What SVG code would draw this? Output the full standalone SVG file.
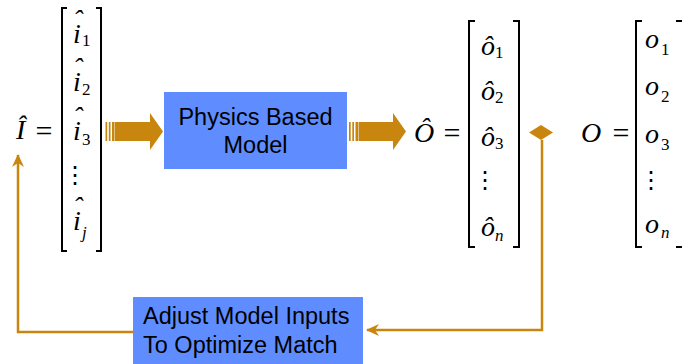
<svg xmlns="http://www.w3.org/2000/svg" width="682" height="364" viewBox="0 0 682 364">
<style>
.m{font-family:"Liberation Serif","Times New Roman",serif;font-style:italic;fill:#000}
.big{font-size:28px}
.it{font-size:28px}
.sub{font-family:"Liberation Serif","Times New Roman",serif;font-size:17px;fill:#000}
.eq{font-family:"Liberation Serif","Times New Roman",serif;font-size:30px;fill:#000}
.vd{font-family:"DejaVu Serif",serif;font-size:24px;fill:#000}
.br{fill:none;stroke:#000;stroke-width:2}
.box{fill:#5F8DFF}
.lbl{font-family:"Liberation Sans",Arial,sans-serif;font-size:23.5px;fill:#000}
.fat{fill:#C8860F}
.wire{fill:none;stroke:#C8860F;stroke-width:2.5}
</style>
<defs>
<marker id="ah" markerWidth="14" markerHeight="14" refX="12" refY="6" orient="auto" markerUnits="userSpaceOnUse">
<path d="M0,0 L13,6 L0,12 L4,6 Z" fill="#C8860F"/>
</marker>
</defs>

<g id="connectors">
<g id="fat-arrow-1" class="fat">
<rect x="105.5" y="122" width="1.7" height="19"/>
<rect x="108.8" y="122" width="1.7" height="19"/>
<rect x="112" y="122" width="2.5" height="19"/>
<polygon points="115,122 150,122 150,113 163,131.5 150,150 150,141 115,141"/>
</g>
<g id="fat-arrow-2" class="fat">
<rect x="349" y="122" width="1.7" height="19"/>
<rect x="352.3" y="122" width="1.7" height="19"/>
<rect x="355.5" y="122" width="2.5" height="19"/>
<polygon points="358.5,122 393,122 393,113 406,131.5 393,150 393,141 358.5,141"/>
</g>
<polygon class="fat" points="541,125 553,132.5 541,140 529,132.5"/>
<path class="wire" d="M542,140 V330 H367" marker-end="url(#ah)"/>
<path class="wire" d="M133,332 H18 V155" marker-end="url(#ah)"/>
</g>

<g id="input-vector">
<text class="m big" x="16" y="139">Î</text>
<text class="eq" x="44" y="141" text-anchor="middle">=</text>
<path class="br" d="M67,8 H62 V251 H67"/>
<path class="br" d="M96,8 H101 V251 H96"/>
<text class="m it" x="73" y="43">i</text><text class="m it" x="73" y="29">ˆ</text><text class="sub" x="82" y="46">1</text>
<text class="m it" x="73" y="91">i</text><text class="m it" x="73" y="77">ˆ</text><text class="sub" x="82" y="95">2</text>
<text class="m it" x="73" y="140">i</text><text class="m it" x="73" y="126">ˆ</text><text class="sub" x="82" y="145">3</text>
<text class="vd" x="75" y="183" text-anchor="middle">⋮</text>
<text class="m it" x="73" y="230">i</text><text class="m it" x="73" y="216">ˆ</text><text class="m sub" x="82" y="238">j</text>
</g>

<g id="physics-model">
<rect class="box" x="164" y="92" width="183" height="77"/>
<text class="lbl" x="255.5" y="125" text-anchor="middle">Physics Based</text>
<text class="lbl" x="255.5" y="153" text-anchor="middle">Model</text>
</g>

<g id="estimated-output">
<text class="m big" x="414" y="142">Ô</text>
<text class="eq" x="452" y="143" text-anchor="middle">=</text>
<path class="br" d="M475,21 H469 V247 H475"/>
<path class="br" d="M513,21 H519 V247 H513"/>
<text class="m it" x="481" y="55">ô</text><text class="sub" x="495" y="58">1</text>
<text class="m it" x="481" y="100">ô</text><text class="sub" x="495" y="103">2</text>
<text class="m it" x="481" y="146">ô</text><text class="sub" x="495" y="149">3</text>
<text class="vd" x="485" y="188" text-anchor="middle">⋮</text>
<text class="m it" x="481" y="236">ô</text><text class="m sub" x="495" y="241">n</text>
</g>

<g id="measured-output">
<text class="m big" x="581" y="142">O</text>
<text class="eq" x="621" y="143" text-anchor="middle">=</text>
<path class="br" d="M642,21 H636 V247 H642"/>
<path class="br" d="M676,21 H683 V247 H676"/>
<text class="m it" x="645" y="48">o</text><text class="sub" x="661" y="55">1</text>
<text class="m it" x="645" y="95">o</text><text class="sub" x="661" y="102">2</text>
<text class="m it" x="645" y="143">o</text><text class="sub" x="661" y="150">3</text>
<text class="vd" x="651" y="188" text-anchor="middle">⋮</text>
<text class="m it" x="645" y="233">o</text><text class="m sub" x="661" y="238">n</text>
</g>

<g id="adjust-inputs">
<rect class="box" x="133" y="297" width="230" height="67"/>
<text class="lbl" x="143" y="324">Adjust Model Inputs</text>
<text class="lbl" x="143" y="353">To Optimize Match</text>
</g>
</svg>
